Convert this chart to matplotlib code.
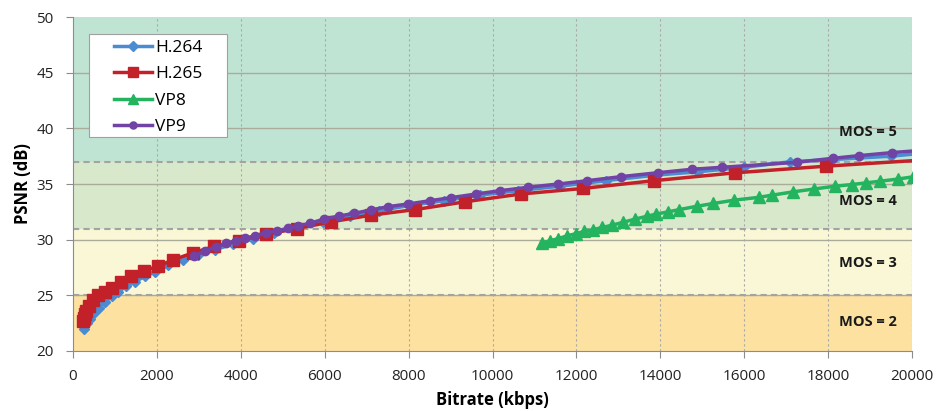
import matplotlib

matplotlib.use("Agg")
import matplotlib.pyplot as plt
from matplotlib.patches import Rectangle

plt.rcParams["font.family"] = ["Open Sans", "DejaVu Sans"]

# H.264
h264_kbps = [262, 330, 400, 500, 610, 760, 920, 1070, 1270, 1470, 1710, 1960, 2270, 2620,
             2980, 3380, 3820, 4300, 4800, 5350, 5950, 6600, 7300, 8050, 8850, 9700, 10600,
             11600, 12700, 13900, 14900, 16000, 17100, 18100, 19500, 20500]
h264_psnr = [22.0, 22.5, 22.9, 23.4, 23.9, 24.4, 24.9, 25.3, 25.8, 26.2, 26.7, 27.1, 27.7, 28.2,
             28.6, 29.1, 29.6, 30.1, 30.6, 31.1, 31.6, 32.1, 32.6, 33.1, 33.5, 34.0, 34.4,
             34.8, 35.3, 35.8, 36.1, 36.5, 37.0, 37.2, 37.5, 37.85]

# H.265
h265_kbps = [230, 250, 280, 320, 370, 480, 600, 760, 920, 1140, 1380, 1680, 2020, 2390, 2850,
             3370, 3960, 4600, 5330, 6150, 7100, 8150, 9340, 10670, 12150, 13850, 15770,
             17940, 20450]
h265_psnr = [22.7, 23.0, 23.3, 23.6, 24.0, 24.6, 25.0, 25.3, 25.7, 26.2, 26.7, 27.2, 27.6, 28.2,
             28.8, 29.4, 29.9, 30.5, 31.0, 31.6, 32.2, 32.7, 33.4, 34.1, 34.6, 35.3, 36.0,
             36.6, 37.2]

# VP8
vp8_kbps = [11170, 11370, 11570, 11780, 12000, 12180, 12400, 12620, 12850, 13100, 13400,
            13680, 13900, 14190, 14450, 14870, 15260, 15760, 16340, 16670, 17170, 17660,
            18160, 18560, 18900, 19240, 19670, 20030]
vp8_psnr = [29.7, 29.9, 30.1, 30.35, 30.55, 30.75, 30.9, 31.1, 31.3, 31.55, 31.85,
            32.1, 32.3, 32.5, 32.7, 33.0, 33.25, 33.55, 33.8, 34.0, 34.3, 34.55,
            34.8, 34.95, 35.1, 35.25, 35.45, 35.65]

# VP9
vp9_kbps = [2884, 3147, 3409, 3647, 3878, 4100, 4338, 4601, 4855, 5117, 5372, 5650, 5984,
            6349, 6706, 7097, 7517, 7994, 8510, 9004, 9600, 10179, 10855, 11570, 12261,
            13057, 13952, 14749, 15464, 17252, 18110, 18745, 19518, 20500]
vp9_psnr = [28.54, 28.98, 29.37, 29.67, 29.91, 30.12, 30.36, 30.63, 30.78, 31.02, 31.26,
            31.47, 31.86, 32.13, 32.37, 32.67, 32.97, 33.21, 33.5, 33.77, 34.1, 34.4, 34.71,
            35.0, 35.3, 35.66, 36.02, 36.32, 36.5, 36.95, 37.31, 37.55, 37.82, 38.1]

# MOS bands
mos_edges = [20, 25, 31, 37, 50]
mos_labels = ["MOS = 2", "MOS = 3", "MOS = 4", "MOS = 5"]
mos_label_y = [22.6, 27.9, 33.45, 39.7]
mos_colors = ["#FCE1A0", "#FAF7D6", "#D8E9CB", "#C0E4D3"]

fig = plt.figure(figsize=(9.4, 4.11), dpi=100)
ax = fig.add_axes([0.0777, 0.146, 0.8926, 0.8126])

for lo, hi, c in zip(mos_edges[:-1], mos_edges[1:], mos_colors):
    ax.axhspan(lo, hi, color=c, lw=0, zorder=0)
for y in mos_edges[1:-1]:
    ax.axhline(y, color="#A3A3A3", lw=1.5, ls=(0, (3, 2)), zorder=1)
for y in range(25, 50, 5):
    ax.axhline(y, color="#ABAB9C", lw=1.0, zorder=0.5)
for x in range(2000, 20001, 2000):
    ax.axvline(x, color="#A8A8A8", lw=0.8, ls=(0, (2, 2.5)), zorder=0.5)

ax.plot(h264_kbps, h264_psnr, color="#4A8BD2", lw=2.5, marker="D", ms=5.5,
        label="H.264", zorder=3)
ax.plot(h265_kbps, h265_psnr, color="#C32129", lw=2.5, marker="s", ms=8,
        label="H.265", zorder=4)
ax.plot(vp8_kbps, vp8_psnr, color="#24B35F", lw=2.5, marker="^", ms=8,
        label="VP8", zorder=3)
ax.plot(vp9_kbps, vp9_psnr, color="#7143A5", lw=2.5, marker="o", ms=6,
        label="VP9", zorder=5)

for lab, y in zip(mos_labels, mos_label_y):
    ax.text(18940, y, lab, ha="center", va="center", fontsize=10.5,
            fontweight="bold", color="#1A1A1A", zorder=6)

ax.set_xlim(0, 20000)
ax.set_ylim(20, 50)
ax.set_xticks(range(0, 20001, 2000))
ax.set_yticks(range(20, 51, 5))
ax.tick_params(labelsize=11, colors="#222222", length=5, width=0.8)
ax.tick_params(axis="both", color="#8C8C8C")
ax.tick_params(axis="x", pad=8)
ax.tick_params(axis="y", pad=9)
for s in ("top", "right"):
    ax.spines[s].set_visible(False)
for s in ("left", "bottom"):
    ax.spines[s].set_color("#8C8C8C")
ax.set_xlabel("Bitrate (kbps)", fontsize=12, fontweight="bold", labelpad=5)
ax.set_ylabel("PSNR (dB)", fontsize=12, fontweight="bold", labelpad=3)

# legend box (Excel style: wide side padding)
ax.add_patch(Rectangle((0.0191, 0.6407), 0.1645, 0.3084, transform=ax.transAxes,
                       facecolor="white", edgecolor="#A0A0A0", lw=0.8, zorder=7))
leg = ax.legend(loc="upper left", bbox_to_anchor=(0.0489, 0.931), fontsize=12.5,
                handlelength=2.2, handletextpad=0.15, frameon=False,
                borderpad=0, borderaxespad=0, labelspacing=0.58, markerscale=0.85)
leg.set_zorder(8)

fig.savefig("out.png", dpi=100)
